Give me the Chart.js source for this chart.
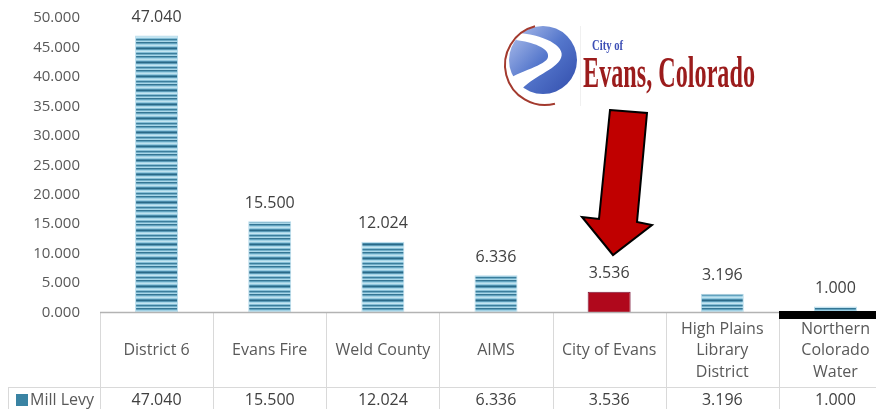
<!DOCTYPE html>
<html>
<head>
<meta charset="utf-8">
<script src="https://cdn.jsdelivr.net/npm/chart.js@4.4.1/dist/chart.umd.min.js"></script>
<style>
    html, body { margin: 0; padding: 0; background: #ffffff; overflow: hidden; }
    #wrap { width: 892px; height: 409px; position: relative; }
</style>
</head>
<body>
<div id="wrap"><canvas id="levy"></canvas></div>
<script>
// 資料
const categories = [['District 6'], ['Evans Fire'], ['Weld County'], ['AIMS'], ['City of Evans'],
    ['High Plains', 'Library', 'District'], ['Northern', 'Colorado', 'Water']];
const millLevy = [47.040, 15.500, 12.024, 6.336, 3.536, 3.196, 1.000];
const seriesName = 'Mill Levy';
const yMin = 0, yMax = 50, yStep = 5;
const highlightIndex = 4;  // City of Evans

const FONT = '"Open Sans", "Liberation Sans", sans-serif';

// 條紋填色
function stripePattern(ctx) {
    const c = document.createElement('canvas');
    c.width = 4; c.height = 14;
    const g = c.getContext('2d');
    const rows = ['#357694', '#62a3bf', '#9fd0e4', '#bfe2ef', '#93c9df', '#4a8cab', '#2a6a88',
        '#5a9ab7', '#a7d6e8', '#c4e5f1', '#86bfd7', '#3b7e9c', '#72afc9', '#aad7e8'];
    rows.forEach((col, i) => { g.fillStyle = col; g.fillRect(0, i, 4, 1); });
    return ctx.createPattern(c, 'repeat');
}

const ctx = document.getElementById('levy').getContext('2d');
const stripes = stripePattern(ctx);
const barColors = millLevy.map((v, i) => i === highlightIndex ? '#b0081c' : stripes);
const barBorders = millLevy.map((v, i) => i === highlightIndex ? '#7d1a3c' : '#b9dceb');

//-------------------------------------------------------- 數值標籤
const valueLabels = {
    id: 'valueLabels',
    afterDatasetsDraw(chart) {
        const c = chart.ctx;
        const meta = chart.getDatasetMeta(0);
        c.save();
        c.font = '16px ' + FONT;
        c.fillStyle = '#404040';
        c.textAlign = 'center';
        c.textBaseline = 'middle';
        meta.data.forEach((bar, i) => {
            c.fillText(millLevy[i].toFixed(3), bar.x, bar.y - 18);
        });
        c.restore();
    }
};

//-------------------------------------------------------- 資料表 + 標誌 + 箭頭
const dataTable = {
    id: 'dataTable',
    afterDraw(chart) {
        const c = chart.ctx;
        const area = chart.chartArea;
        const xs = chart.scales.x;
        const H = chart.height;
        const colW = (area.right - area.left) / categories.length;
        const rowY = 387;
        c.save();

        // 格線
        c.strokeStyle = '#d9d9d9';
        c.lineWidth = 1;
        for (let i = 0; i <= categories.length; i++) {
            const x = Math.round(area.left + i * colW) + 0.5;
            c.beginPath(); c.moveTo(x, area.bottom); c.lineTo(x, H); c.stroke();
        }
        c.beginPath(); c.moveTo(8, rowY + 0.5); c.lineTo(area.right, rowY + 0.5); c.stroke();
        c.beginPath(); c.moveTo(8.5, rowY); c.lineTo(8.5, H); c.stroke();

        // X 軸線
        c.strokeStyle = '#b3b3b3';
        c.lineWidth = 1.5;
        c.beginPath(); c.moveTo(area.left, area.bottom); c.lineTo(area.right, area.bottom); c.stroke();

        // 類別文字
        c.font = '16px ' + FONT;
        c.fillStyle = '#595959';
        c.textAlign = 'center';
        c.textBaseline = 'middle';
        const midY = (area.bottom + rowY) / 2 + 1;
        categories.forEach((lines, i) => {
            const cx = xs.getPixelForValue(i);
            const lh = 21.5;
            const y0 = midY - (lines.length - 1) * lh / 2;
            lines.forEach((t, j) => c.fillText(t, cx, y0 + j * lh));
            c.fillStyle = '#404040';
            c.fillText(millLevy[i].toFixed(3), cx, 400);
            c.fillStyle = '#595959';
        });

        // 圖例
        c.fillStyle = '#3a83a3';
        c.fillRect(16, 394, 12, 12);
        c.fillStyle = '#595959';
        c.textAlign = 'left';
        c.fillText(seriesName, 30, 400);

        // 黑色粗線
        c.fillStyle = '#000000';
        c.fillRect(Math.round(area.left + 6 * colW), 311, area.right, 8);

        // 標誌 City of Evans, Colorado
        c.strokeStyle = '#f0f0f0';
        c.lineWidth = 1;
        c.beginPath(); c.moveTo(580.5, 26); c.lineTo(580.5, 106); c.stroke();
        const grd = c.createLinearGradient(515, 35, 575, 90);
        grd.addColorStop(0, '#9fb3e6');
        grd.addColorStop(0.45, '#5577cc');
        grd.addColorStop(1, '#3450ae');
        c.fillStyle = grd;
        c.beginPath(); c.arc(543, 60, 34, 0, Math.PI * 2); c.fill();
        // 白色河流
        c.fillStyle = '#ffffff';
        c.beginPath();
        c.moveTo(520, 33);
        c.bezierCurveTo(548, 36, 568, 48, 560, 60);
        c.bezierCurveTo(552, 72, 528, 78, 518, 94);
        c.lineTo(504, 82);
        c.bezierCurveTo(520, 70, 546, 66, 548, 57);
        c.bezierCurveTo(550, 48, 532, 42, 516, 40);
        c.closePath();
        c.fill();
        c.strokeStyle = '#a33a2e';
        c.lineWidth = 2;
        c.beginPath(); c.arc(545, 65, 40, Math.PI * 0.42, Math.PI * 1.42); c.stroke();

        c.textAlign = 'left';
        c.textBaseline = 'alphabetic';
        c.fillStyle = '#3d4fb5';
        c.font = 'bold 15px "Liberation Serif", serif';
        let w = c.measureText('City of').width;
        c.save(); c.translate(592, 50); c.scale(31 / w, 1); c.fillText('City of', 0, 0); c.restore();
        c.fillStyle = '#9b1c1c';
        c.font = 'bold 44px "Liberation Serif", serif';
        w = c.measureText('Evans, Colorado').width;
        c.save(); c.translate(583, 87); c.scale(172 / w, 1); c.fillText('Evans, Colorado', 0, 0); c.restore();

        // 紅色箭頭
        c.fillStyle = '#c00000';
        c.strokeStyle = '#000000';
        c.lineWidth = 2;
        c.lineJoin = 'miter';
        c.beginPath();
        c.moveTo(610, 110);
        c.lineTo(647, 113);
        c.lineTo(637, 222);
        c.lineTo(652, 225);
        c.lineTo(613, 255);
        c.lineTo(582, 217);
        c.lineTo(599, 219);
        c.closePath();
        c.fill();
        c.stroke();

        c.restore();
    }
};

new Chart(ctx, {
    type: 'bar',
    data: {
        labels: categories,
        datasets: [{
            label: seriesName,
            data: millLevy,
            backgroundColor: barColors,
            borderColor: barBorders,
            borderWidth: 1,
            barPercentage: 0.38,
            categoryPercentage: 1
        }]
    },
    options: {
        responsive: true,
        maintainAspectRatio: false,
        animation: false,
        layout: {
            padding: { top: 18, left: 0, right: 0, bottom: 0 }
        },
        plugins: {
            legend: { display: false },
            tooltip: { enabled: false }
        },
        scales: {
            x: {
                grid: { display: false },
                border: { display: false },
                ticks: { display: false },
                afterFit: s => { s.height = 96.5; }
            },
            y: {
                min: yMin,
                max: yMax,
                grid: { display: false, drawTicks: false },
                border: { display: false },
                ticks: {
                    stepSize: yStep,
                    padding: 20,
                    color: '#595959',
                    font: { family: FONT, size: 15 },
                    callback: v => v.toFixed(3)
                },
                afterFit: s => {
                    s.width = 100;
                    s.paddingTop = 0;
                    s.paddingBottom = 0;
                }
            }
        }
    },
    plugins: [valueLabels, dataTable]
});
</script>
</body>
</html>
